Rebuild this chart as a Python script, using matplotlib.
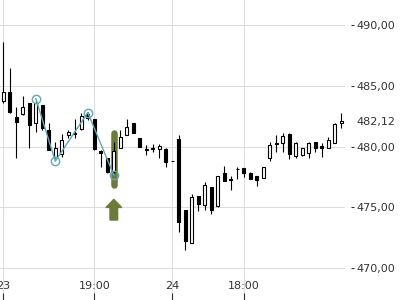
import matplotlib
matplotlib.use("Agg")
import matplotlib.pyplot as plt
from matplotlib.patches import FancyArrow

# ---- data ----
opens = [483.77, 484.46, 482.45, 482.65, 483.56, 481.91, 483.42, 481.36, 479.16, 479.40,
         480.95, 481.05, 481.42, 482.67, 482.24, 479.65, 479.03, 477.93, 479.85, 480.95,
         481.91, 480.74, 479.82, 479.80, 479.79, 479.79, 478.82, 480.63, 474.77, 472.03,
         475.93, 475.19, 476.67, 475.08, 477.84, 477.30, 478.12, 478.20, 477.84, 477.57,
         477.38, 479.09, 480.33, 480.31, 481.00, 479.24, 479.30, 479.44, 480.35, 480.07,
         479.85, 480.26, 481.91]
highs = [488.63, 486.49, 483.28, 484.16, 483.60, 483.83, 483.45, 481.91, 480.35, 481.00,
         481.40, 482.24, 482.73, 482.86, 482.30, 479.70, 479.05, 480.40, 481.36, 482.24,
         481.91, 480.74, 480.12, 480.20, 480.20, 479.89, 478.83, 480.95, 474.80, 476.09,
         475.95, 477.08, 476.70, 477.60, 478.40, 477.57, 478.29, 478.25, 477.93, 477.60,
         478.30, 480.40, 480.95, 481.09, 481.09, 480.40, 479.90, 480.35, 480.40, 480.26,
         480.76, 481.91, 482.73]
lows = [483.56, 482.80, 479.08, 482.60, 479.85, 481.22, 481.36, 479.70, 479.03, 479.16,
        480.70, 480.70, 481.36, 482.18, 479.70, 478.31, 477.80, 477.80, 479.85, 480.95,
        481.14, 479.98, 479.30, 479.52, 479.03, 478.29, 478.79, 472.99, 471.48, 472.03,
        474.72, 474.77, 474.44, 475.05, 477.19, 476.42, 477.33, 477.51, 477.30, 476.77,
        477.38, 478.83, 479.57, 479.57, 478.97, 479.03, 479.24, 479.08, 479.57, 479.16,
        479.85, 480.26, 481.55]
closes = [484.46, 482.86, 482.04, 483.23, 481.77, 483.56, 481.50, 479.71, 479.85, 480.55,
          481.17, 481.15, 482.49, 482.32, 479.77, 479.44, 477.93, 479.63, 480.81, 481.63,
          481.14, 479.98, 479.72, 479.85, 480.04, 478.75, 478.80, 473.81, 472.25, 475.82,
          475.24, 476.81, 474.75, 477.57, 477.19, 477.25, 478.18, 477.79, 477.30, 477.24,
          478.29, 480.12, 480.18, 480.86, 479.36, 480.26, 479.85, 480.26, 479.85, 479.85,
          480.53, 481.85, 482.12]

# zig-zag pivots (candle index, price)
pivot_idx = [5, 8, 13, 17]
pivot_val = [483.95, 478.80, 482.80, 477.65]

# highlighted candle and signal arrow
signal_idx = 17
highlight_top = 481.08
highlight_bottom = 476.85
arrow_base = 473.95
arrow_tip = 475.65

x_tick_pos = [0, 14, 26, 37]
x_tick_labels = ["23", "19:00", "24", "18:00"]
y_tick_vals = [470, 475, 480, 485, 490]
y_tick_labels = ["470,00", "475,00", "480,00", "485,00", "490,00"]
last_price = 482.12
last_label = "482,12"

# ---- figure ----
fig = plt.figure(figsize=(4, 3), dpi=100)
ax = fig.add_axes([0, 0, 345 / 400, 1])
ax.set_xlim(-0.508, 52.57)
ax.set_ylim(467.37, 492.06)

for s in ax.spines.values():
    s.set_visible(False)
ax.spines["right"].set_position(("outward", 4.3))

ax.set_axisbelow(True)
ax.grid(True, color="#dddddd", lw=0.8)

# highlight bar
ax.plot([signal_idx, signal_idx], [highlight_bottom, highlight_top],
        color="#6b7c3a", lw=4.7, solid_capstyle="round", zorder=1.5)

n = len(opens)
xs = list(range(n))
ax.vlines(xs, lows, highs, color="black", lw=0.8, zorder=2)
bottoms = [min(o, c) for o, c in zip(opens, closes)]
heights = [max(abs(c - o), 0.02) for o, c in zip(opens, closes)]
fills = ["white" if c >= o else "black" for o, c in zip(opens, closes)]
ax.bar(xs, heights, bottom=bottoms, width=0.45, color=fills,
       edgecolor="black", linewidth=0.8, zorder=3)

# zig-zag
ax.plot(pivot_idx, pivot_val, color="#62a8b0", lw=1.0, zorder=4)
ax.plot(pivot_idx, pivot_val, "o", ms=6, mfc="none", mec="#62a8b0", mew=1.0, zorder=4)

# signal arrow
ax.add_patch(FancyArrow(signal_idx, arrow_base, 0, arrow_tip - arrow_base,
                        width=1.17, head_width=2.42, head_length=0.66,
                        length_includes_head=True, color="#6b7c3a", zorder=4))

# axes ticks
ax.set_xticks(x_tick_pos)
ax.set_xticklabels(x_tick_labels)
ax.tick_params(axis="x", direction="in", length=5, width=0.8, pad=-14,
               labelsize=8, colors="#333333")

ax.yaxis.tick_right()
ax.set_yticks(y_tick_vals)
ax.set_yticklabels(y_tick_labels)
ax.set_yticks([last_price], minor=True)
ax.set_yticklabels([last_label], minor=True)
ax.tick_params(axis="y", which="major", length=2.4, width=0.8, pad=1.4,
               labelsize=8, colors="#333333")
ax.tick_params(axis="y", which="minor", length=0, pad=3.8,
               labelsize=8, colors="#333333")

fig.savefig("out.png", dpi=100)
